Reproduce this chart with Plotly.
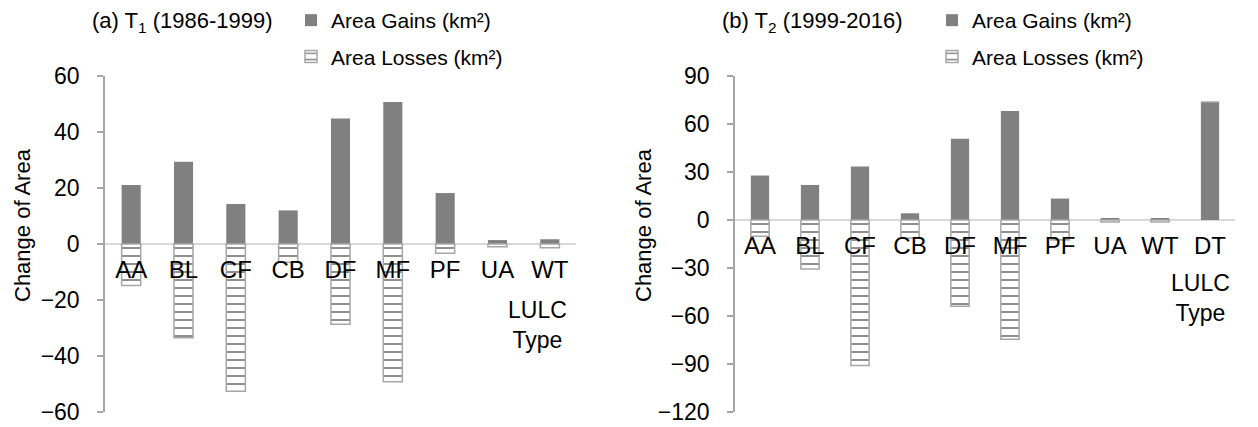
import plotly.graph_objects as go

# ---- data ----
cats_a = ["AA", "BL", "CF", "CB", "DF", "MF", "PF", "UA", "WT"]
gains_a = [21.1, 29.4, 14.3, 12.0, 44.8, 50.7, 18.2, 1.4, 1.7]
losses_a = [-14.8, -33.5, -52.6, -6.5, -28.7, -49.2, -3.3, -1.0, -1.3]

cats_b = ["AA", "BL", "CF", "CB", "DF", "MF", "PF", "UA", "WT", "DT"]
gains_b = [27.8, 21.9, 33.4, 4.2, 50.8, 68.1, 13.4, 1.0, 1.0, 73.8]
losses_b = [-10.2, -30.7, -91.0, -11.3, -53.9, -74.6, -12.5, -1.2, -1.2, 0.0]

ticks_a = [-60, -40, -20, 0, 20, 40, 60]
ticks_b = [-120, -90, -60, -30, 0, 30, 60, 90]

W, H = 1258, 427
OFF = 8  # default page body margin in the browser
FONT = "Liberation Sans, Arial, sans-serif"
GAIN_COLOR = "#808080"
AXIS_COLOR = "#a6a6a6"
ZERO_COLOR = "#d9d9d9"


def xp(px):
    return (px - OFF) / W


def yp(py):
    return 1 - (py - OFF) / H


fig = go.Figure()


def add_panel(cats, gains, losses, xa, ya, legend):
    fig.add_trace(go.Bar(
        x=cats, y=gains, name="Area Gains (km²)", xaxis=xa, yaxis=ya,
        marker=dict(color=GAIN_COLOR, line=dict(width=0)),
        legend=legend, legendgroup=legend + "g",
    ))
    fig.add_trace(go.Bar(
        x=cats, y=losses, name="Area Losses (km²)", xaxis=xa, yaxis=ya,
        marker=dict(color="white", line=dict(color=AXIS_COLOR, width=1.5),
                    pattern=dict(shape="-", fgcolor="black", bgcolor="white",
                                 size=8, solidity=0.22)),
        legend=legend, legendgroup=legend + "l",
    ))


add_panel(cats_a, gains_a, losses_a, "x", "y", "legend")
add_panel(cats_b, gains_b, losses_b, "x2", "y2", "legend2")

ydom = [yp(412), yp(76)]
xdom_a = [xp(105), xp(576)]
xdom_b = [xp(735), xp(1235)]


def ypos(v0, v1, v):
    frac = (v - v0) / (v1 - v0)
    return ydom[0] + frac * (ydom[1] - ydom[0])


common_x = dict(showline=False, ticks="", showgrid=False, zeroline=False,
                tickfont=dict(family=FONT, size=24, color="black"),
                ticklabelstandoff=9, anchor="free", automargin=False)
common_y = dict(showline=True, linecolor=AXIS_COLOR, linewidth=1.5,
                ticks="outside", ticklen=6, tickcolor=AXIS_COLOR, tickwidth=1.5,
                showgrid=False, zeroline=True, zerolinecolor=ZERO_COLOR,
                zerolinewidth=2, tickfont=dict(family=FONT, size=23, color="black"),
                ticklabelstandoff=13, automargin=False)

fig.update_layout(
    width=W, height=H,
    margin=dict(l=0, r=0, t=0, b=0, autoexpand=False),
    paper_bgcolor="white", plot_bgcolor="white",
    barmode="relative", bargap=0.635,
    font=dict(family=FONT, size=22, color="black"),
    xaxis=dict(domain=xdom_a, position=ypos(-60, 60, 0), **common_x),
    yaxis=dict(domain=ydom, range=[-60, 60], tickvals=ticks_a, anchor="x", **common_y),
    xaxis2=dict(domain=xdom_b, position=ypos(-120, 90, 0), **common_x),
    yaxis2=dict(domain=ydom, range=[-120, 90], tickvals=ticks_b, anchor="x2", **common_y),
    legend=dict(x=xp(291), y=yp(0), xanchor="left", yanchor="top",
                font=dict(family=FONT, size=21), tracegroupgap=6,
                bgcolor="rgba(0,0,0,0)"),
    legend2=dict(x=xp(932), y=yp(0), xanchor="left", yanchor="top",
                 font=dict(family=FONT, size=21), tracegroupgap=6,
                 bgcolor="rgba(0,0,0,0)"),
    showlegend=True,
)

ann = [
    dict(text="(a) T<sub>1</sub> (1986-1999)", x=xp(183), y=yp(22), size=22),
    dict(text="(b) T<sub>2</sub> (1999-2016)", x=xp(812), y=yp(22), size=22),
    dict(text="Change of Area", x=xp(22), y=yp(225), textangle=-90, size=22),
    dict(text="Change of Area", x=xp(643), y=yp(225), textangle=-90, size=22),
    dict(text="LULC<br>Type", x=xp(537), y=yp(325), size=23),
    dict(text="LULC<br>Type", x=xp(1200), y=yp(298), size=23),
]
for a in ann:
    size = a.pop("size")
    fig.add_annotation(xref="paper", yref="paper", showarrow=False,
                       xanchor="center", yanchor="middle",
                       font=dict(family=FONT, size=size, color="black"), **a)

fig.write_html("out.html")
